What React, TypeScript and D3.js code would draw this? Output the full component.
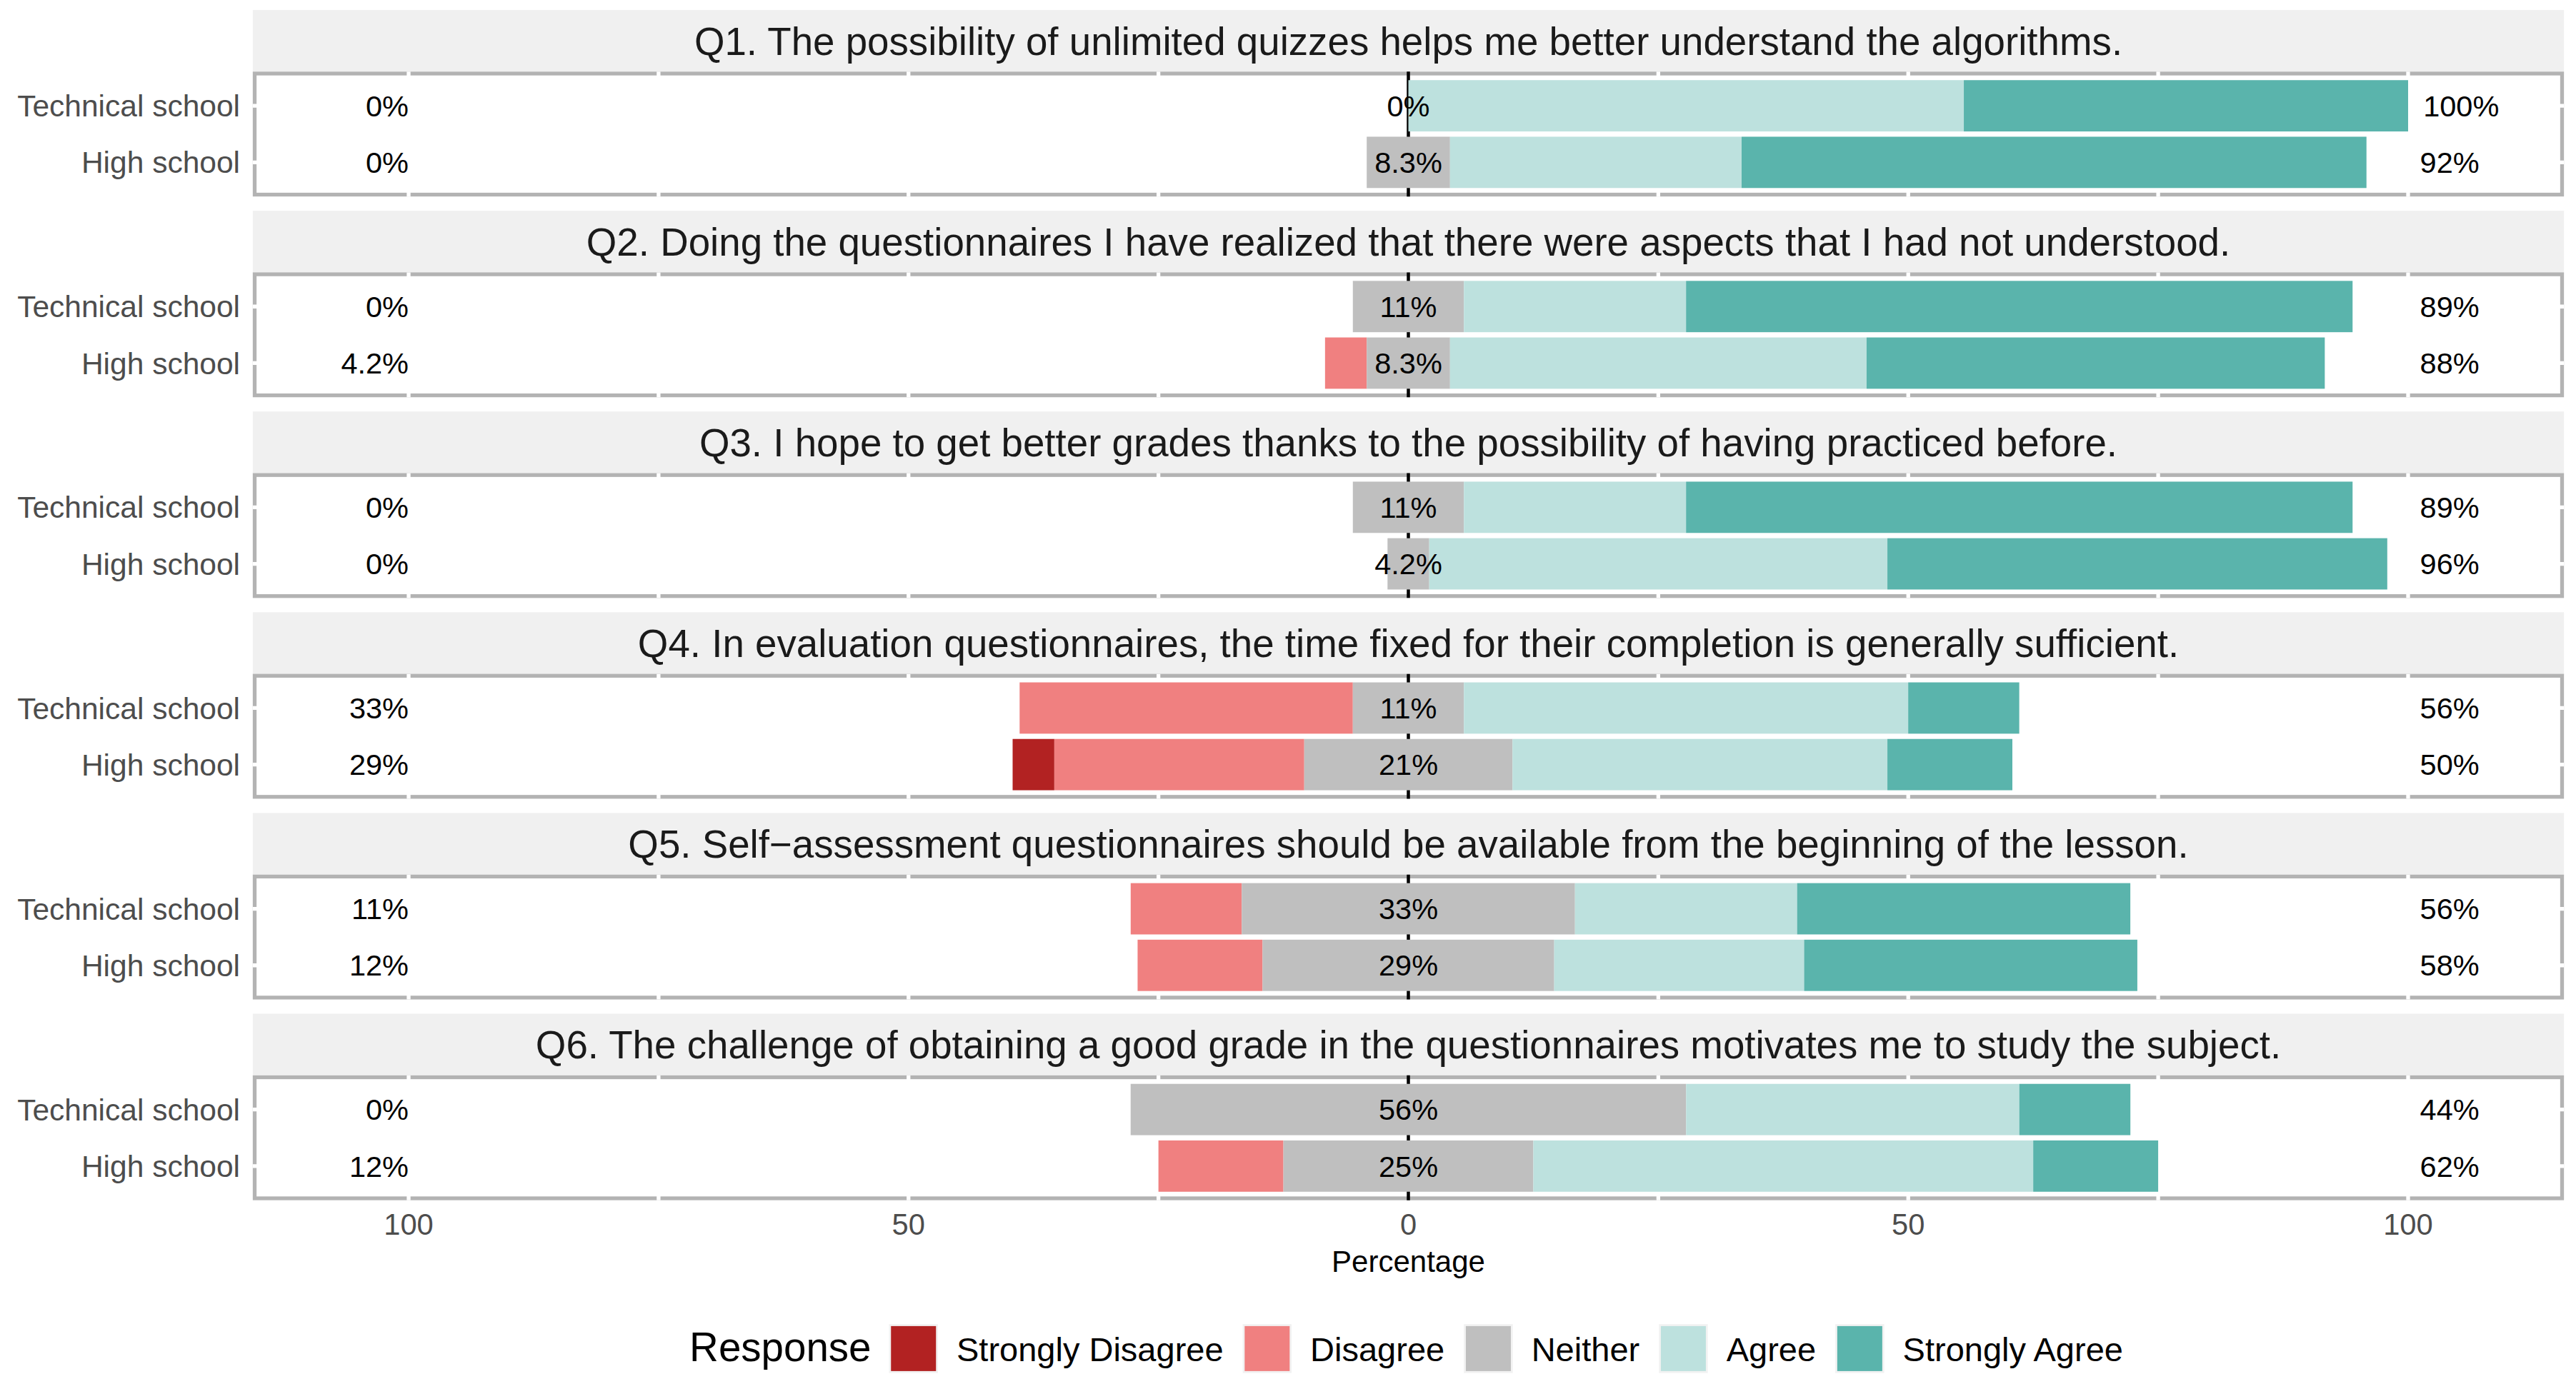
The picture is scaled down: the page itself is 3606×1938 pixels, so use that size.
import React, { useEffect, useRef } from 'react';
import * as d3 from 'd3';

const W = 3606;
const H = 1938;
const FONT = '"Liberation Sans", Arial, Helvetica, sans-serif';

const questions = [
  'Q1. The possibility of unlimited quizzes helps me better understand the algorithms.',
  'Q2. Doing the questionnaires I have realized that there were aspects that I had not understood.',
  'Q3. I hope to get better grades thanks to the possibility of having practiced before.',
  'Q4. In evaluation questionnaires, the time fixed for their completion is generally sufficient.',
  'Q5. Self\u2212assessment questionnaires should be available from the beginning of the lesson.',
  'Q6. The challenge of obtaining a good grade in the questionnaires motivates me to study the subject.',
];
const groups = ['Technical school', 'High school'];
const responses = ['Strongly Disagree', 'Disagree', 'Neither', 'Agree', 'Strongly Agree'];
const colors = ['#B22222', '#F08080', '#BFBFBF', '#BDE1DE', '#5AB4AC'];

// percentages, order: Q1 technical, Q1 high, Q2 technical, Q2 high, ...
const stronglyDisagree = [0, 0, 0, 0, 0, 0, 0, 4.17, 0, 0, 0, 0];
const disagree = [0, 0, 0, 4.17, 0, 0, 33.33, 25, 11.11, 12.5, 0, 12.5];
const neither = [0, 8.33, 11.11, 8.33, 11.11, 4.17, 11.11, 20.83, 33.33, 29.17, 55.56, 25];
const agree = [55.56, 29.17, 22.22, 41.67, 22.22, 45.83, 44.44, 37.5, 22.22, 25, 33.33, 50];
const stronglyAgree = [44.44, 62.5, 66.67, 45.83, 66.67, 50, 11.11, 12.5, 33.33, 33.33, 11.11, 12.5];

const lowLabels = ['0%', '0%', '0%', '4.2%', '0%', '0%', '33%', '29%', '11%', '12%', '0%', '12%'];
const neutralLabels = ['0%', '8.3%', '11%', '8.3%', '11%', '4.2%', '11%', '21%', '33%', '29%', '56%', '25%'];
const highLabels = ['100%', '92%', '89%', '88%', '89%', '96%', '56%', '50%', '56%', '58%', '44%', '62%'];

const xTicks = [-100, -50, 0, 50, 100];
const gridTicks = [-100, -75, -50, -25, 25, 50, 75, 100];

function App() {
  const ref = useRef<SVGSVGElement | null>(null);

  useEffect(() => {
    const svg = d3.select(ref.current);
    svg.selectAll('*').remove();

    const x = d3.scaleLinear().domain([-115.4, 115.4]).range([356.5, 3586.5]);
    const period = 281.1;
    const stripTop = 14;
    const stripH = 87;
    const borderW = 5.3;

    questions.forEach((q, qi) => {
      const top = stripTop + qi * period;
      const pTop = top + 89;
      const pBottom = top + 258.5;
      const g = svg.append('g');

      // strip
      g.append('rect')
        .attr('x', x.range()[0] - borderW / 2).attr('y', top)
        .attr('width', x.range()[1] - x.range()[0] + borderW).attr('height', stripH + 2)
        .attr('fill', '#F0F0F0');
      g.append('text')
        .attr('x', (x.range()[0] + x.range()[1]) / 2).attr('y', top + stripH / 2)
        .attr('dy', '0.35em').attr('text-anchor', 'middle')
        .attr('font-size', 54.7).attr('fill', '#1A1A1A')
        .text(q);

      // panel
      g.append('rect')
        .attr('x', x.range()[0]).attr('y', pTop)
        .attr('width', x.range()[1] - x.range()[0]).attr('height', pBottom - pTop)
        .attr('fill', 'white').attr('stroke', '#B3B3B3').attr('stroke-width', borderW);

      const y = d3.scalePoint<string>().domain(groups).range([pTop, pBottom]).padding(0.57);
      const barH = y.step() * 0.907;

      // white grid lines cut through the border
      g.selectAll('.vgrid').data(gridTicks).join('line')
        .attr('x1', (d) => x(d)).attr('x2', (d) => x(d))
        .attr('y1', pTop - borderW / 2).attr('y2', pBottom + borderW / 2)
        .attr('stroke', 'white').attr('stroke-width', 5.3);
      g.selectAll('.hgrid').data(groups).join('line')
        .attr('x1', x.range()[0] - borderW / 2).attr('x2', x.range()[1] + borderW / 2)
        .attr('y1', (d) => y(d)!).attr('y2', (d) => y(d)!)
        .attr('stroke', 'white').attr('stroke-width', 5.3);

      g.append('line')
        .attr('x1', x(0)).attr('x2', x(0))
        .attr('y1', pTop - borderW / 2).attr('y2', pBottom + borderW / 2)
        .attr('stroke', 'black').attr('stroke-width', 4.5);

      groups.forEach((grp, gi) => {
        const i = qi * 2 + gi;
        const vals = [stronglyDisagree[i], disagree[i], neither[i], agree[i], stronglyAgree[i]];
        const half = vals[2] / 2;
        const segs = [
          { k: 0, a: -half - vals[1] - vals[0], b: -half - vals[1] },
          { k: 1, a: -half - vals[1], b: -half },
          { k: 2, a: -half, b: half },
          { k: 3, a: half, b: half + vals[3] },
          { k: 4, a: half + vals[3], b: half + vals[3] + vals[4] },
        ].filter((s) => s.b - s.a > 0);
        const cy = y(grp)!;
        g.selectAll(`.bar${gi}`).data(segs).join('rect')
          .attr('x', (d) => x(d.a)).attr('width', (d) => x(d.b) - x(d.a))
          .attr('y', cy - barH / 2).attr('height', barH)
          .attr('fill', (d) => colors[d.k]);

        const lbl = (tx: number, anchor: string, s: string) =>
          g.append('text')
            .attr('x', tx).attr('y', cy).attr('dy', '0.355em')
            .attr('text-anchor', anchor).attr('font-size', 41.5).attr('fill', 'black')
            .text(s);
        lbl(x(-100), 'end', lowLabels[i]);
        lbl(x(0), 'middle', neutralLabels[i]);
        const hi = lbl(x(100), 'start', highLabels[i]);
        const w = (hi.node() as SVGTextElement).getComputedTextLength();
        hi.attr('x', x(100) + 0.2 * w);

        g.append('text')
          .attr('x', 336).attr('y', cy).attr('dy', '0.355em')
          .attr('text-anchor', 'end').attr('font-size', 42.5).attr('fill', '#4D4D4D')
          .text(grp);
      });
    });

    // x axis
    const axisY = 1729.3;
    svg.selectAll('.tick').data(xTicks).join('text')
      .attr('x', (d) => x(d)).attr('y', axisY)
      .attr('text-anchor', 'middle').attr('font-size', 41.7).attr('fill', '#4D4D4D')
      .text((d) => String(Math.abs(d)));
    svg.append('text')
      .attr('x', (x.range()[0] + x.range()[1]) / 2).attr('y', 1781)
      .attr('text-anchor', 'middle').attr('font-size', 42).attr('fill', 'black')
      .text('Percentage');

    // legend
    const leg = svg.append('g');
    const keyBg = 68.5;
    const keyFill = 63;
    const legCy = 1888.4;
    let cx = 0;
    const title = leg.append('text').attr('x', cx).attr('y', 1906)
      .attr('font-size', 56.5).attr('fill', 'black').text('Response');
    cx += (title.node() as SVGTextElement).getComputedTextLength() + 25;
    responses.forEach((r, k) => {
      leg.append('rect').attr('x', cx).attr('y', legCy - keyBg / 2)
        .attr('width', keyBg).attr('height', keyBg).attr('fill', '#F2F2F2');
      leg.append('rect').attr('x', cx + (keyBg - keyFill) / 2).attr('y', legCy - keyFill / 2)
        .attr('width', keyFill).attr('height', keyFill).attr('fill', colors[k]);
      cx += keyBg + 26;
      const t = leg.append('text').attr('x', cx).attr('y', 1905.5)
        .attr('font-size', 47).attr('fill', 'black').text(r);
      cx += (t.node() as SVGTextElement).getComputedTextLength();
      if (k < responses.length - 1) cx += 27;
    });
    leg.attr('transform', `translate(${1968.5 - cx / 2},0)`);
  }, []);

  return (
    <svg
      ref={ref}
      width={W}
      height={H}
      viewBox={`0 0 ${W} ${H}`}
      style={{ position: 'absolute', left: 0, top: 0, background: 'white', fontFamily: FONT }}
    />
  );
}

export default App;
